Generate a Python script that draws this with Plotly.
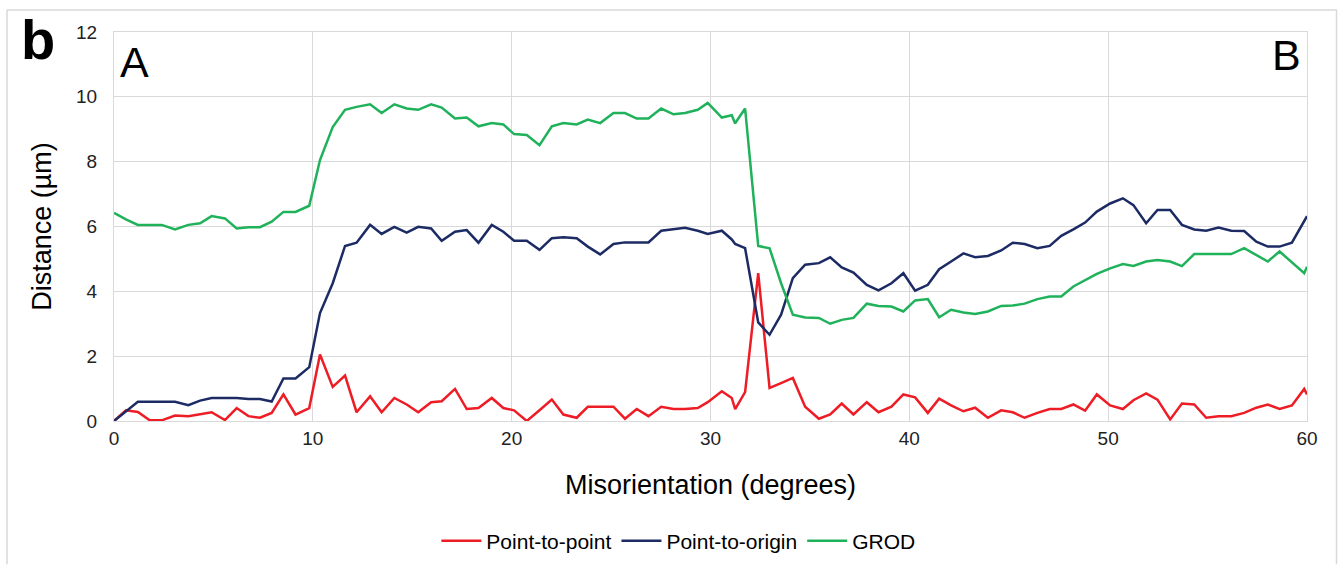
import plotly.graph_objects as go

# Misorientation positions (degrees)
misorientation = [
    0, 0.6, 1.2, 1.8, 2.4,
    3.07, 3.74, 4.33, 4.91, 5.58,
    6.17, 6.76, 7.34, 7.93, 8.52,
    9.13, 9.82, 10.36, 11.0, 11.62,
    12.2, 12.88, 13.46, 14.1, 14.72,
    15.3, 15.95, 16.48, 17.15, 17.74,
    18.33, 19.0, 19.58, 20.12, 20.76,
    21.4, 22.02, 22.6, 23.27, 23.83,
    24.45, 25.12, 25.7, 26.29, 26.88,
    27.52, 28.14, 28.72, 29.36, 29.86,
    30.57, 31.07, 31.24, 31.4, 31.74,
    32.4, 32.97, 33.55, 34.14, 34.76,
    35.45, 36.02, 36.6, 37.19, 37.86,
    38.45, 39.1, 39.7, 40.29, 40.93,
    41.5, 42.1, 42.72, 43.31, 43.95,
    44.62, 45.2, 45.8, 46.44, 47.06,
    47.64, 48.25, 48.84, 49.43, 50.1,
    50.74, 51.27, 51.91, 52.48, 53.12,
    53.71, 54.33, 54.93, 55.55, 56.19,
    56.84, 57.45, 58.03, 58.62, 59.24,
    59.86, 60,
]

point_to_point = [
    0, 0.33, 0.28, 0.02, 0.02,
    0.17, 0.15, 0.2, 0.27, 0.03,
    0.4, 0.15, 0.1, 0.25, 0.82,
    0.2, 0.4, 2.05, 1.05, 1.4,
    0.27, 0.76, 0.27, 0.71, 0.51,
    0.27, 0.58, 0.61, 0.99, 0.37,
    0.4, 0.71, 0.4, 0.33, 0.0,
    0.33, 0.66, 0.2, 0.1, 0.44,
    0.44, 0.44, 0.07, 0.37, 0.15,
    0.44, 0.37, 0.37, 0.4, 0.58,
    0.92, 0.71, 0.37, 0.55, 0.89,
    4.56, 1.02, 1.17, 1.33, 0.44,
    0.07, 0.2, 0.54, 0.2, 0.58,
    0.27, 0.44, 0.82, 0.73, 0.25,
    0.69, 0.48, 0.3, 0.41, 0.1,
    0.33, 0.27, 0.1, 0.25, 0.37,
    0.37, 0.51, 0.32, 0.82, 0.48,
    0.37, 0.64, 0.85, 0.66, 0.05,
    0.54, 0.51, 0.1, 0.15, 0.15,
    0.25, 0.41, 0.51, 0.37, 0.48,
    0.99, 0.82,
]

point_to_origin = [
    0, 0.3, 0.59, 0.59, 0.59,
    0.59, 0.49, 0.63, 0.71, 0.71,
    0.71, 0.68, 0.68, 0.6, 1.31,
    1.31, 1.66, 3.33, 4.25, 5.4,
    5.5, 6.05, 5.77, 5.99, 5.81,
    5.99, 5.94, 5.56, 5.84, 5.89,
    5.5, 6.05, 5.84, 5.56, 5.56,
    5.28, 5.64, 5.67, 5.64, 5.38,
    5.14, 5.46, 5.51, 5.51, 5.51,
    5.87, 5.91, 5.96, 5.87, 5.77,
    5.87, 5.6, 5.46, 5.42, 5.33,
    3.04, 2.66, 3.28, 4.41, 4.82,
    4.87, 5.05, 4.74, 4.58, 4.2,
    4.03, 4.25, 4.56, 4.02, 4.2,
    4.68, 4.92, 5.17, 5.05, 5.09,
    5.26, 5.5, 5.46, 5.33, 5.4,
    5.71, 5.91, 6.12, 6.46, 6.71,
    6.87, 6.66, 6.1, 6.51, 6.51,
    6.05, 5.91, 5.87, 5.97, 5.87,
    5.86, 5.53, 5.38, 5.38, 5.5,
    6.15, 6.32,
]

grod = [
    6.42, 6.22, 6.05, 6.05, 6.05,
    5.91, 6.05, 6.1, 6.32, 6.25,
    5.94, 5.98, 5.98, 6.15, 6.45,
    6.45, 6.64, 8.05, 9.07, 9.6,
    9.69, 9.77, 9.5, 9.77, 9.64,
    9.6, 9.77, 9.67, 9.33, 9.36,
    9.09, 9.19, 9.15, 8.85, 8.82,
    8.51, 9.09, 9.19, 9.15, 9.3,
    9.19, 9.5, 9.5, 9.33, 9.33,
    9.64, 9.46, 9.5, 9.6, 9.81,
    9.36, 9.43, 9.18, 9.33, 9.64,
    5.4, 5.33, 4.25, 3.28, 3.19,
    3.18, 3.0, 3.12, 3.18, 3.62,
    3.55, 3.53, 3.38, 3.72, 3.76,
    3.2, 3.43, 3.35, 3.3, 3.38,
    3.55, 3.56, 3.62, 3.76, 3.84,
    3.84, 4.15, 4.35, 4.54, 4.71,
    4.84, 4.78, 4.92, 4.97, 4.92,
    4.78, 5.15, 5.15, 5.15, 5.15,
    5.33, 5.12, 4.92, 5.23, 4.89,
    4.56, 4.76,
]

series_names = ["Point-to-point", "Point-to-origin", "GROD"]
series_colors = ["#ee1c25", "#1c2b64", "#1fb25a"]
x_ticks = [0, 10, 20, 30, 40, 50, 60]
y_ticks = [0, 2, 4, 6, 8, 10, 12]

FONT = "Liberation Sans, Arial, sans-serif"

fig = go.Figure()
for name, ys, col in zip(series_names, [point_to_point, point_to_origin, grod], series_colors):
    fig.add_trace(go.Scatter(x=misorientation, y=ys, mode="lines", name=name,
                             line=dict(color=col, width=2.5)))

W, H = 1338, 565
L, R, T, B = 114, 31, 32, 143.5
pw, ph = W - L - R, H - T - B

def px(x):
    return (x - L) / pw

def py(y):
    return (H - B - y) / ph

fig.update_layout(
    width=W, height=H,
    margin=dict(l=L, r=R, t=T, b=B, pad=0),
    paper_bgcolor="white", plot_bgcolor="white",
    font=dict(family=FONT, color="#000000"),
    showlegend=True,
    legend=dict(orientation="h", xref="container", yref="container",
                x=0.507, y=1 - 541 / H, xanchor="center", yanchor="middle",
                font=dict(size=21, color="#000000"), itemwidth=40,
                bgcolor="rgba(0,0,0,0)"),
    xaxis=dict(range=[0, 60], tickvals=x_ticks, showgrid=True, gridcolor="#d9d9d9",
               gridwidth=1, zeroline=False, showline=True, linecolor="#d9d9d9",
               mirror=True, ticks="", tickfont=dict(size=19, color="#222"),
               title=dict(text="Misorientation (degrees)", font=dict(size=27),
                          standoff=27)),
    yaxis=dict(range=[0, 12], tickvals=y_ticks, showgrid=True, gridcolor="#d9d9d9",
               gridwidth=1, zeroline=False, showline=True, linecolor="#d9d9d9",
               mirror=True, ticks="", ticklabelstandoff=12,
               tickfont=dict(size=19, color="#222"),
               title=dict(text="Distance (µm)", font=dict(size=27), standoff=16)),
    shapes=[
        dict(type="line", xref="paper", yref="paper", x0=px(7), x1=px(1337),
             y0=py(10), y1=py(10), line=dict(color="#d9d9d9", width=1.5)),
        dict(type="line", xref="paper", yref="paper", x0=px(7), x1=px(7),
             y0=py(10), y1=py(565), line=dict(color="#d9d9d9", width=1.5)),
        dict(type="line", xref="paper", yref="paper", x0=px(1336.5), x1=px(1336.5),
             y0=py(10), y1=py(565), line=dict(color="#d9d9d9", width=1.5)),
    ],
    annotations=[
        dict(text="<b>b</b>", xref="paper", yref="paper", x=px(38), y=py(40),
             xanchor="center", yanchor="middle", showarrow=False,
             font=dict(size=56, color="#000")),
        dict(text="A", xref="paper", yref="paper", x=px(134), y=py(62),
             xanchor="center", yanchor="middle", showarrow=False,
             font=dict(size=43, color="#000")),
        dict(text="B", xref="paper", yref="paper", x=px(1286), y=py(55),
             xanchor="center", yanchor="middle", showarrow=False,
             font=dict(size=43, color="#000")),
    ],
)

fig.write_html("out.html")
